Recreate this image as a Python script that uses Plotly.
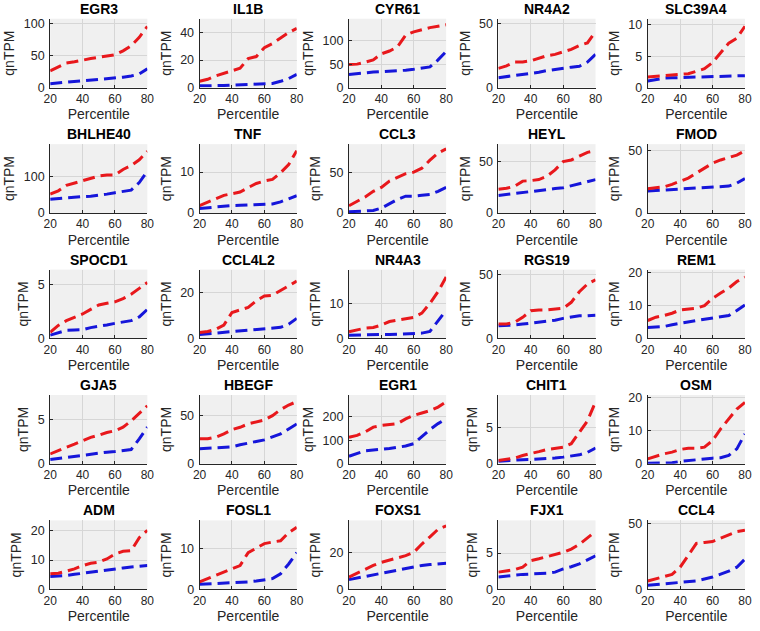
import plotly.graph_objects as go

percentile = [20, 25, 30, 35, 40, 45, 50, 55, 60, 65, 70, 75, 80]

genes = ["EGR3", "IL1B", "CYR61", "NR4A2", "SLC39A4",
         "BHLHE40", "TNF", "CCL3", "HEYL", "FMOD",
         "SPOCD1", "CCL4L2", "NR4A3", "RGS19", "REM1",
         "GJA5", "HBEGF", "EGR1", "CHIT1", "OSM",
         "ADM", "FOSL1", "FOXS1", "FJX1", "CCL4"]

EGR3_red = [26, 32, 38, 40, 43, 45, 47, 49, 51, 57, 65, 78, 95]
EGR3_blue = [6, 7, 9, 10, 11, 12, 13, 14, 15, 16, 18, 21, 29]
IL1B_red = [4.5, 6, 8.5, 10.5, 12, 14, 21, 22.5, 29, 32, 36, 40, 43]
IL1B_blue = [1.2, 1.2, 1.3, 1.5, 1.8, 2, 2, 2.2, 2.5, 3, 4.5, 6.5, 9.5]
CYR61_red = [49, 50, 54, 59, 72, 78, 87, 112, 119, 124, 128, 131, 134]
CYR61_blue = [28, 30, 32, 33, 34, 35, 35, 37, 39, 41, 44, 59, 77]
NR4A2_red = [15, 17, 20, 20, 21, 23, 25, 26, 28, 30, 33, 35, 44]
NR4A2_blue = [7.7, 8.5, 9.5, 10, 10.8, 12, 13.3, 14.3, 15.4, 16, 16.7, 20, 26]
SLC39A4_red = [1.7, 1.8, 1.9, 2.0, 2.0, 2.2, 2.6, 3.0, 4.0, 5.5, 7.1, 7.9, 9.8]
SLC39A4_blue = [1.05, 1.3, 1.5, 1.55, 1.6, 1.65, 1.7, 1.75, 1.8, 1.82, 1.85, 1.9, 1.9]
BHLHE40_red = [52, 61, 76, 82, 90, 95, 102, 105, 105, 120, 131, 147, 170]
BHLHE40_blue = [38, 40, 43, 44, 45, 46, 48, 52, 56, 60, 63, 84, 115]
TNF_red = [1.8, 2.7, 3.5, 4.3, 4.7, 5.1, 6.2, 7.2, 7.8, 8.2, 9.8, 11.8, 15.2]
TNF_blue = [1.1, 1.3, 1.5, 1.6, 1.8, 1.85, 1.9, 2.0, 2.1, 2.2, 2.7, 3.4, 4.2]
CCL3_red = [9, 14, 20, 27, 32, 40, 45, 49, 51, 56, 66, 75, 80]
CCL3_blue = [1.5, 2, 2.5, 3, 6, 12, 17, 21, 21, 22, 23, 27, 32]
HEYL_red = [23, 24, 26, 31, 31.5, 32.5, 35.7, 42, 50, 51.6, 55.4, 59, 60.5]
HEYL_blue = [17, 18, 18.8, 20, 21.3, 22, 22.9, 23.7, 24.5, 26.5, 28.7, 30.3, 32.5]
FMOD_red = [19.5, 20, 21, 23, 25.5, 28, 32, 36, 40, 42.6, 44.5, 46.5, 50]
FMOD_blue = [17.6, 18, 18.4, 18.7, 19, 19.2, 19.5, 19.9, 20.3, 20.8, 21.6, 24, 27.6]
SPOCD1_red = [0.56, 1.2, 1.65, 1.96, 2.27, 2.7, 3.1, 3.26, 3.4, 3.7, 4.1, 4.65, 5.2]
SPOCD1_blue = [0.3, 0.56, 0.75, 0.78, 0.8, 1.0, 1.1, 1.25, 1.4, 1.5, 1.65, 2.0, 2.7]
CCL4L2_red = [2.6, 3.0, 4, 5.8, 11.3, 12.3, 13.5, 16.4, 18.5, 18.8, 20.7, 22.9, 25]
CCL4L2_blue = [1.7, 2.0, 2.3, 2.6, 2.9, 3.2, 3.6, 4.0, 4.3, 4.5, 4.8, 6.2, 8.7]
NR4A3_red = [1.9, 2.4, 2.9, 3.1, 3.8, 4.8, 5.2, 5.6, 6.0, 7.2, 10, 13.3, 17.5]
NR4A3_blue = [0.9, 1.0, 1.0, 1.1, 1.1, 1.1, 1.2, 1.2, 1.3, 1.5, 2.0, 5.0, 8.0]
RGS19_red = [11.3, 11.3, 12.6, 16.5, 21.7, 22.3, 22.3, 23, 23.6, 28.3, 36.6, 42.7, 46]
RGS19_blue = [10, 10.2, 10.5, 11.2, 12, 12.5, 13, 14.3, 15.7, 16.8, 17.8, 17.8, 18.2]
REM1_red = [5.4, 6.4, 6.9, 7.6, 8.6, 8.9, 9.1, 9.9, 12.1, 13.7, 15.2, 17.2, 18.5]
REM1_blue = [3.3, 3.4, 3.6, 4.1, 4.6, 5.0, 5.4, 5.8, 6.1, 6.5, 6.9, 8.4, 10.1]
GJA5_red = [1.1, 1.5, 1.85, 2.2, 2.6, 2.96, 3.2, 3.5, 3.7, 4.1, 4.8, 5.7, 6.5]
GJA5_blue = [0.48, 0.6, 0.74, 0.87, 1.0, 1.1, 1.2, 1.3, 1.37, 1.5, 1.6, 2.8, 4.1]
HBEGF_red = [25.9, 25.9, 27.6, 31, 35.5, 37.9, 41.4, 43.8, 45.5, 50, 56.2, 61, 64.5]
HBEGF_blue = [15.5, 16.2, 16.9, 17.2, 17.6, 19.7, 21.7, 23.2, 24.8, 27.6, 31, 36.2, 41.4]
EGR1_red = [112, 120, 135, 155, 162, 165, 170, 190, 205, 215, 225, 240, 262]
EGR1_blue = [32, 42, 55, 58, 60, 65, 70, 75, 85, 115, 145, 170, 190]
CHIT1_red = [0.46, 0.6, 0.8, 1.16, 1.4, 1.7, 2.0, 2.2, 2.3, 2.8, 4.4, 6.0, 8.66]
CHIT1_blue = [0.37, 0.45, 0.55, 0.58, 0.6, 0.65, 0.7, 0.8, 0.93, 1.06, 1.25, 1.6, 2.2]
OSM_red = [1.5, 2.3, 3.0, 3.5, 4.3, 4.7, 4.7, 5.0, 7.0, 10.5, 13.5, 16.5, 18.5]
OSM_blue = [0.2, 0.25, 0.3, 0.3, 0.7, 1.0, 1.3, 1.5, 1.7, 1.8, 2.5, 4.5, 9.0]
ADM_red = [5.3, 5.5, 6.2, 7.0, 8.1, 8.9, 9.3, 10.4, 12.1, 13.0, 13.2, 17.7, 20.2]
ADM_blue = [4.4, 4.5, 4.7, 5.1, 5.5, 5.9, 6.2, 6.6, 7.0, 7.3, 7.6, 7.9, 8.1]
FOSL1_red = [1.8, 2.6, 3.4, 4.2, 5.0, 5.8, 9.0, 10.1, 11.2, 11.6, 11.9, 13.9, 15.2]
FOSL1_blue = [1.2, 1.3, 1.4, 1.45, 1.5, 1.6, 1.8, 2.0, 2.3, 2.6, 3.8, 6.2, 9.0]
FOXS1_red = [6.6, 8.75, 11, 12.9, 14.6, 15.9, 16.8, 18.2, 20, 24.5, 28.4, 32.5, 34.3]
FOXS1_blue = [5.2, 6.1, 7, 7.9, 8.75, 9.6, 10.5, 11.4, 12.3, 12.9, 13.4, 13.75, 14.1]
FJX1_red = [2.36, 2.5, 2.7, 3.05, 3.95, 4.2, 4.5, 4.8, 5.1, 5.55, 6.2, 7.1, 8.0]
FJX1_blue = [1.7, 1.85, 2.0, 2.05, 2.1, 2.15, 2.2, 2.36, 2.8, 3.1, 3.5, 4.05, 4.6]
CCL4_red = [6.3, 8, 9.8, 11.3, 16.8, 25.6, 35, 35.7, 36.4, 39, 41.5, 44, 45]
CCL4_blue = [3, 3.6, 4.3, 4.9, 5.5, 5.9, 6.3, 7.8, 9.3, 11.5, 13.8, 16.8, 23]

red_series = [EGR3_red, IL1B_red, CYR61_red, NR4A2_red, SLC39A4_red,
              BHLHE40_red, TNF_red, CCL3_red, HEYL_red, FMOD_red,
              SPOCD1_red, CCL4L2_red, NR4A3_red, RGS19_red, REM1_red,
              GJA5_red, HBEGF_red, EGR1_red, CHIT1_red, OSM_red,
              ADM_red, FOSL1_red, FOXS1_red, FJX1_red, CCL4_red]
blue_series = [EGR3_blue, IL1B_blue, CYR61_blue, NR4A2_blue, SLC39A4_blue,
               BHLHE40_blue, TNF_blue, CCL3_blue, HEYL_blue, FMOD_blue,
               SPOCD1_blue, CCL4L2_blue, NR4A3_blue, RGS19_blue, REM1_blue,
               GJA5_blue, HBEGF_blue, EGR1_blue, CHIT1_blue, OSM_blue,
               ADM_blue, FOSL1_blue, FOXS1_blue, FJX1_blue, CCL4_blue]

# y-axis upper limits and tick steps per panel
y_top = [107, 50, 147, 54, 11, 190, 16.8, 86, 67, 55.3, 6.4, 30, 19.6, 54, 20.8,
         7.7, 71.4, 291, 9.6, 20.7, 23.6, 16.9, 37.3, 9.5, 52.5]
y_step = [50, 20, 50, 50, 5, 100, 10, 50, 50, 50, 5, 20, 10, 50, 10,
          5, 50, 100, 5, 10, 10, 10, 20, 5, 50]
x_ticks = [20, 40, 60, 80]

W, H = 760, 631
RED = "rgb(232,24,28)"
BLUE = "rgb(22,22,218)"
AX = "#262626"
FONT = "Liberation Sans, Arial, Helvetica, sans-serif"

col_left = [44 + 152.2 * c for c in range(5)]
row_top = [15 + 127.65 * r for r in range(5)]
pw, ph = 99, 70

fig = go.Figure()
layout = {}
annotations = []
for i, g in enumerate(genes):
    r, c = divmod(i, 5)
    n = i + 1
    sfx = "" if n == 1 else str(n)
    xa, ya = "x" + sfx, "y" + sfx
    fig.add_trace(go.Scatter(x=percentile, y=blue_series[i], mode="lines",
                             line=dict(color=BLUE, width=3, dash="12px,6px"),
                             xaxis=xa, yaxis=ya, showlegend=False, name=g))
    fig.add_trace(go.Scatter(x=percentile, y=red_series[i], mode="lines",
                             line=dict(color=RED, width=3, dash="12px,6px"),
                             xaxis=xa, yaxis=ya, showlegend=False, name=g))
    x0 = col_left[c] / W
    x1 = (col_left[c] + pw) / W
    y1 = 1 - row_top[r] / H
    y0 = 1 - (row_top[r] + ph) / H
    common = dict(showline=True, linecolor=AX, linewidth=1, mirror=False,
                  ticks="inside", ticklen=3, tickcolor=AX, tickwidth=1,
                  showgrid=True, gridcolor="#d6d6d6", gridwidth=1,
                  zeroline=False,
                  ticklabeloverflow="allow", fixedrange=True)
    layout["xaxis" + sfx] = dict(common, domain=[x0, x1], anchor=ya, range=[20, 80],
                                 tickvals=x_ticks,
                                 tickfont=dict(family=FONT, size=12, color=AX),
                                 title=dict(text="Percentile", standoff=4,
                                            font=dict(family=FONT, size=14, color=AX)))
    layout["yaxis" + sfx] = dict(common, domain=[y0, y1], anchor=xa, range=[0, y_top[i]],
                                 tick0=0, dtick=y_step[i], ticklabelstandoff=2,
                                 tickfont=dict(family=FONT, size=12.5, color=AX),
                                 title=dict(text="qnTPM", standoff=5,
                                            font=dict(family=FONT, size=14, color=AX)))
    annotations.append(dict(text="<b>%s</b>" % g, x=(x0 + x1) / 2, y=y1,
                            xref="paper", yref="paper", xanchor="center",
                            yanchor="bottom", yshift=0, showarrow=False,
                            font=dict(family=FONT, size=14, color="black")))

fig.update_layout(width=W, height=H, margin=dict(l=0, r=0, t=0, b=0),
                  paper_bgcolor="white", plot_bgcolor="#f0f0f0",
                  annotations=annotations, **layout)
fig.write_html("out.html", config={"displayModeBar": False},
               post_script="document.body.style.margin='0px';document.body.style.overflow='hidden';")
